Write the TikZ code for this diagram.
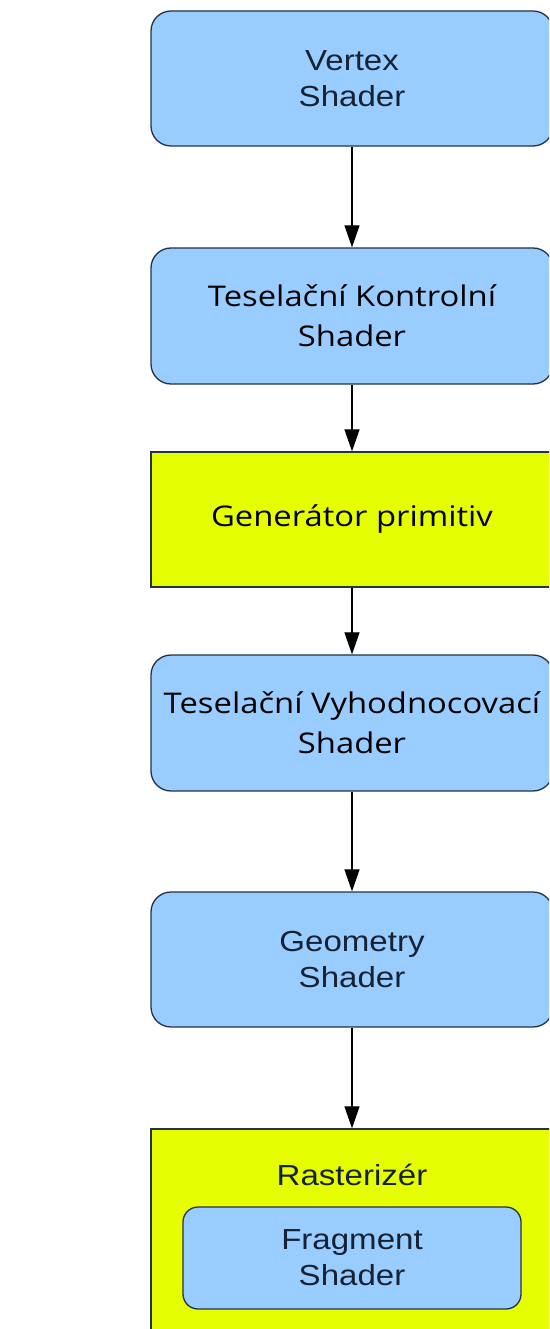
\documentclass[tikz,border=0pt]{standalone}
\usepackage{fontspec}
\setmainfont[FakeStretch=1.14]{Liberation Sans}
\newfontfamily\uifont[FakeStretch=1.15]{Open Sans}
\usetikzlibrary{arrows.meta}
\definecolor{boxblue}{RGB}{153,204,255}
\definecolor{boxyellow}{RGB}{230,255,0}
\definecolor{edge}{RGB}{38,50,72}
\definecolor{ink}{RGB}{22,34,52}
\tikzset{
  stage/.style={draw=edge, line width=1.3pt, minimum width=402pt, align=center,
    text=ink, font=\fontsize{29}{36}\selectfont, inner sep=0pt},
  shaderbox/.style={stage, fill=boxblue, rounded corners=20pt},
  fixedbox/.style={stage, fill=boxyellow},
  uitext/.style={font=\uifont\fontsize{28.5}{40}\selectfont, text=black},
  flow/.style={draw=black, line width=1.2pt, -{Triangle[width=15pt,length=22pt]}}
}
\begin{document}
\begin{tikzpicture}[x=1pt,y=-1pt]
\clip (0,0) rectangle (549,1329);
\fill[white] (0,0) rectangle (549,1329);

% pipeline stages, top to bottom
\node[shaderbox, minimum height=135pt] (vs) at (352,78.5) {Vertex\\Shader};
\node[shaderbox, uitext, minimum height=136pt] (tcs) at (352,316) {Teselační Kontrolní\\Shader};
\node[fixedbox, uitext, minimum height=135pt] (gen) at (352,519.5) {Generátor primitiv};
\node[shaderbox, uitext, minimum height=136pt] (tes) at (352,723) {Teselační Vyhodnocovací\\Shader};
\node[shaderbox, minimum height=135pt] (gs) at (352,959.5) {Geometry\\Shader};

% rasterizer stage containing the fragment shader
\node[fixedbox, minimum height=230pt] (rast) at (352,1244) {};
\node[text=ink, font=\fontsize{29}{36}\selectfont] (rastlabel) at (352,1175) {Rasterizér};
\node[shaderbox, rounded corners=15pt, minimum width=338pt, minimum height=102pt] (fs) at (352,1258) {Fragment\\Shader};

% data flow
\draw[flow] (vs) -- (tcs);
\draw[flow] (tcs) -- (gen);
\draw[flow] (gen) -- (tes);
\draw[flow] (tes) -- (gs);
\draw[flow] (gs) -- (rast);
\end{tikzpicture}
\end{document}
